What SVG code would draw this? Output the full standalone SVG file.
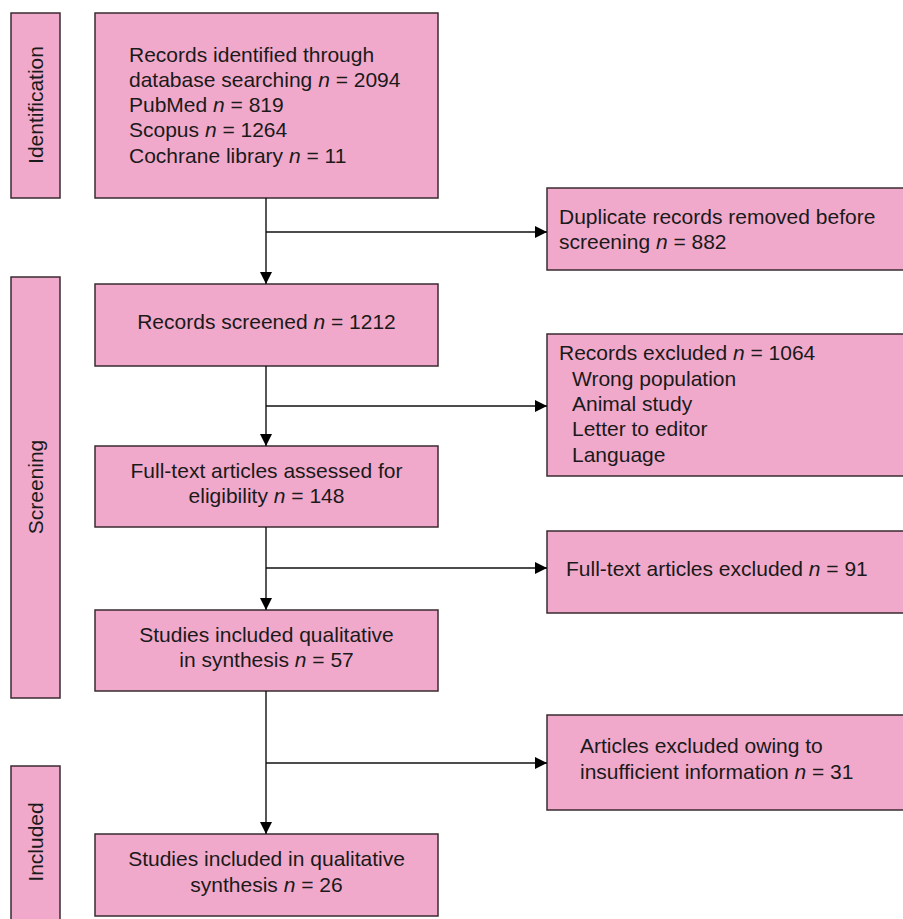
<svg xmlns="http://www.w3.org/2000/svg" width="903" height="919" viewBox="0 0 903 919">
<style>
.box{fill:#F1A9CB;stroke:#3a2b31;stroke-width:1.5}
text{font-family:"Liberation Sans",Arial,sans-serif;font-size:21px;fill:#1a1a1a}
.c{text-anchor:middle}
.i{font-style:italic}
.con{stroke:#111;stroke-width:1.4;fill:none}
</style>
<defs>
<marker id="ah" markerUnits="userSpaceOnUse" markerWidth="12" markerHeight="12" viewBox="0 0 12 12" refX="12" refY="6" orient="auto">
<path d="M0,0 L12,6 L0,12 z" fill="#000"/>
</marker>
</defs>
<rect width="903" height="919" fill="#fff"/>
<g id="stage-identification">
<rect class="box" x="11" y="13" width="49" height="185"/>
<text class="c" transform="translate(43,105) rotate(-90)">Identification</text>
</g>
<g id="stage-screening">
<rect class="box" x="11" y="277" width="49" height="421"/>
<text class="c" transform="translate(43,487) rotate(-90)">Screening</text>
</g>
<g id="stage-included">
<rect class="box" x="11" y="766" width="49" height="160"/>
<text class="c" transform="translate(43,842) rotate(-90)">Included</text>
</g>
<g id="identified">
<rect class="box" x="95" y="13" width="343" height="185"/>
<text x="129" y="62">Records identified through</text>
<text x="129" y="87">database searching <tspan class="i">n</tspan> = 2094</text>
<text x="129" y="112">PubMed <tspan class="i">n</tspan> = 819</text>
<text x="129" y="137">Scopus <tspan class="i">n</tspan> = 1264</text>
<text x="129" y="163">Cochrane library <tspan class="i">n</tspan> = 11</text>
</g>
<g id="duplicates">
<rect class="box" x="547" y="188" width="370" height="82"/>
<text x="559" y="224">Duplicate records removed before</text>
<text x="559" y="249">screening <tspan class="i">n</tspan> = 882</text>
</g>
<g id="screened">
<rect class="box" x="95" y="284" width="343" height="82"/>
<text class="c" x="266.5" y="329">Records screened <tspan class="i">n</tspan> = 1212</text>
</g>
<g id="excluded-records">
<rect class="box" x="547" y="334" width="370" height="142"/>
<text x="559" y="360">Records excluded <tspan class="i">n</tspan> = 1064</text>
<text x="572" y="386">Wrong population</text>
<text x="572" y="411">Animal study</text>
<text x="572" y="436">Letter to editor</text>
<text x="572" y="462">Language</text>
</g>
<g id="fulltext-assessed">
<rect class="box" x="95" y="446" width="343" height="81"/>
<text class="c" x="266.5" y="478">Full-text articles assessed for</text>
<text class="c" x="266.5" y="503">eligibility <tspan class="i">n</tspan> = 148</text>
</g>
<g id="fulltext-excluded">
<rect class="box" x="547" y="531" width="370" height="82"/>
<text x="566" y="576">Full-text articles excluded <tspan class="i">n</tspan> = 91</text>
</g>
<g id="qualitative-57">
<rect class="box" x="95" y="610" width="343" height="81"/>
<text class="c" x="266.5" y="642">Studies included qualitative</text>
<text class="c" x="266.5" y="667">in synthesis <tspan class="i">n</tspan> = 57</text>
</g>
<g id="insufficient">
<rect class="box" x="547" y="715" width="370" height="95"/>
<text x="580" y="753">Articles excluded owing to</text>
<text x="580" y="779">insufficient information <tspan class="i">n</tspan> = 31</text>
</g>
<g id="qualitative-26">
<rect class="box" x="95" y="834" width="343" height="82"/>
<text class="c" x="266.5" y="866">Studies included in qualitative</text>
<text class="c" x="266.5" y="892">synthesis <tspan class="i">n</tspan> = 26</text>
</g>
<g id="connectors">
<line class="con" x1="266" y1="198" x2="266" y2="284" marker-end="url(#ah)"/>
<line class="con" x1="266" y1="232" x2="547" y2="232" marker-end="url(#ah)"/>
<line class="con" x1="266" y1="366" x2="266" y2="446" marker-end="url(#ah)"/>
<line class="con" x1="266" y1="406" x2="547" y2="406" marker-end="url(#ah)"/>
<line class="con" x1="266" y1="527" x2="266" y2="610" marker-end="url(#ah)"/>
<line class="con" x1="266" y1="568" x2="547" y2="568" marker-end="url(#ah)"/>
<line class="con" x1="266" y1="691" x2="266" y2="834" marker-end="url(#ah)"/>
<line class="con" x1="266" y1="763" x2="547" y2="763" marker-end="url(#ah)"/>
</g>
</svg>
